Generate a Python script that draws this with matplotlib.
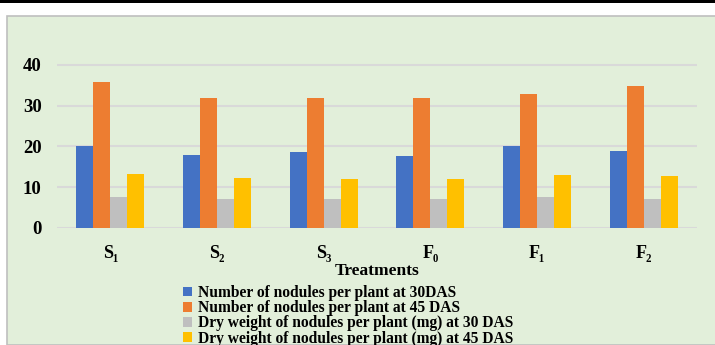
import numpy as np
import matplotlib
matplotlib.use("Agg")
import matplotlib.pyplot as plt
from matplotlib.patches import Rectangle, Patch

plt.rcParams['font.family'] = ['Liberation Serif', 'DejaVu Serif']
plt.rcParams['font.weight'] = 'bold'

treatments = ['S\u2081', 'S\u2082', 'S\u2083', 'F\u2080', 'F\u2081', 'F\u2082']
nod_30 = [20.0, 18.0, 18.7, 17.6, 20.0, 19.0]
nod_45 = [35.7, 31.8, 32.0, 31.8, 32.9, 34.8]
dw_30 = [7.5, 7.0, 7.2, 7.0, 7.6, 7.2]
dw_45 = [13.2, 12.3, 12.0, 12.0, 13.0, 12.7]
series_names = ['Number of nodules per plant at 30DAS',
                'Number of nodules per plant at 45 DAS',
                'Dry weight of nodules per plant (mg) at 30 DAS',
                'Dry weight of nodules per plant (mg) at 45 DAS']
colors = ['#4472C4', '#ED7D31', '#BFBFBF', '#FFC000']

fig = plt.figure(figsize=(7.15, 3.45), dpi=100)
fig.patch.set_facecolor('white')
# green panel and top black band
fig.patches.append(Rectangle((7/715., 0), 1 - 7/715. + 0.01, (345-16)/345., transform=fig.transFigure,
                             facecolor='#E2EFDA', edgecolor='#BFBFBF', linewidth=1.2, zorder=-5))
fig.patches.append(Rectangle((0, 342/345.), 1, 3/345., transform=fig.transFigure,
                             facecolor='black', edgecolor='none', zorder=-4))

ax = fig.add_axes([57/715., 117/345., 640/715., 0.52])
ax.set_zorder(2)
ax.set_facecolor('none')
x = np.arange(len(treatments))
w = 0.16
data = [nod_30, nod_45, dw_30, dw_45]
for i, (vals, c) in enumerate(zip(data, colors)):
    ax.bar(x + (i - 1.5) * w, vals, w, color=c, zorder=3)

ax.set_xlim(-0.5, len(treatments) - 0.5)
ax.set_ylim(0, 44)
ax.set_yticks([0, 10, 20, 30, 40])
ax.yaxis.grid(True, color='#D9D9D9', linewidth=1.5, zorder=0)
ax.set_axisbelow(True)
for s in ax.spines.values():
    s.set_visible(False)
ax.tick_params(length=0)
ax.tick_params(axis='y', pad=11, labelsize=13.5)
ax.tick_params(axis='x', pad=12, labelsize=13)
ax.set_xticks(x)
ax.set_xticklabels(treatments, fontweight='bold')
for t in ax.get_yticklabels():
    t.set_fontweight('bold')
ax.set_xlabel('Treatments', fontsize=12.5, fontweight='bold', labelpad=1)

handles = [Patch(facecolor=c, edgecolor='none') for c in colors]
fig.legend(handles, series_names, loc='upper left', bbox_to_anchor=(183/715., 1 - 285/345.),
           frameon=False, prop={'family': 'Liberation Serif', 'weight': 'bold', 'size': 11.2},
           handlelength=0.6, handleheight=0.6, handletextpad=0.35, labelspacing=-0.05,
           borderpad=0, borderaxespad=0)

fig.savefig('out.png', dpi=100)
